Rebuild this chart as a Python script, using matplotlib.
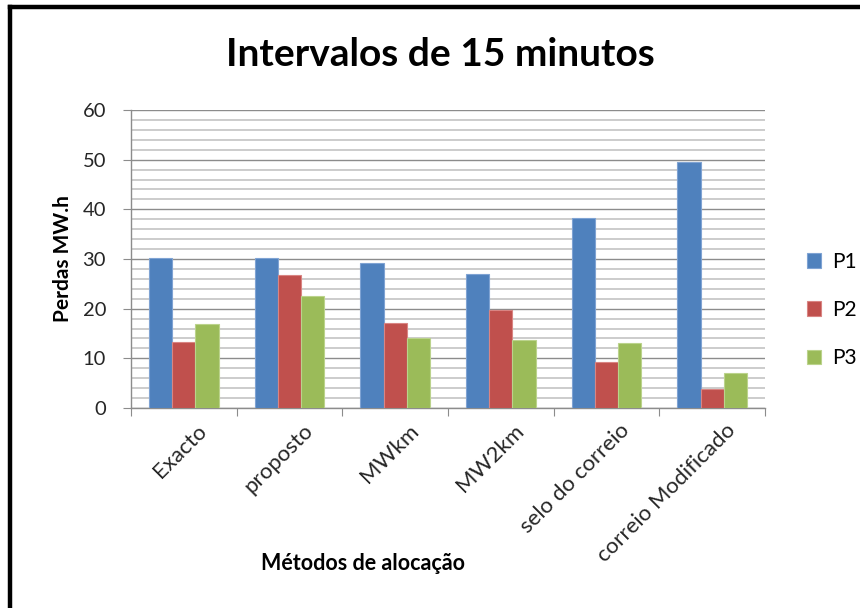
import matplotlib.pyplot as plt
import numpy as np
from matplotlib.lines import Line2D
from matplotlib.patches import Patch
import matplotlib.transforms as mtransforms

plt.rcParams['font.family'] = ['Lato', 'DejaVu Sans']

metodos = ['Exacto', 'proposto', 'MWkm', 'MW2km', 'selo do correio', 'correio Modificado']
series = ['P1', 'P2', 'P3']
p1 = [30.3, 30.3, 29.1, 27.0, 38.2, 49.6]
p2 = [13.3, 26.7, 17.2, 19.8, 9.3, 3.8]
p3 = [17.0, 22.5, 14.1, 13.7, 13.0, 7.1]
cores = ['#4F81BD', '#C0504D', '#9BBB59']
bordas = ['#7FA3D3', '#D98583', '#BBD38C']

fig = plt.figure(figsize=(8.6, 6.08), dpi=100)
ax = fig.add_axes([131 / 860, 1 - 408 / 608, (765 - 131) / 860, (408 - 110) / 608])

x = np.arange(len(metodos))
w = 0.22
for i, (vals, c, e) in enumerate(zip([p1, p2, p3], cores, bordas)):
    ax.bar(x + (i - 1) * w, vals, width=w, color=c, edgecolor=e, linewidth=0.8,
           label=series[i], zorder=3)

ax.set_xlim(-0.5, len(metodos) - 0.5)
ax.set_ylim(0, 60)
ax.set_yticks(range(0, 61, 10))
ax.set_yticks(range(0, 61, 2), minor=True)
ax.grid(axis='y', which='minor', color='#C8C8C8', linewidth=1.3, zorder=0)
ax.grid(axis='y', which='major', color='#8C8C8C', linewidth=1.0, zorder=1)

for s in ['top', 'right']:
    ax.spines[s].set_visible(False)
for s in ['left', 'bottom']:
    ax.spines[s].set_color('#8C8C8C')
    ax.spines[s].set_linewidth(1.0)

ax.tick_params(axis='y', which='major', length=6, color='#8C8C8C', labelsize=14.5,
               labelcolor='#262626', pad=12)
ax.tick_params(axis='y', which='minor', length=0)

# category boundaries carry the x tick marks, labels sit at the centres
ax.set_xticks(np.arange(-0.5, len(metodos), 1.0))
ax.set_xticklabels([])
ax.tick_params(axis='x', which='major', length=6, color='#8C8C8C')
ax.set_xticks(x, minor=True)
ax.set_xticklabels(metodos, minor=True, rotation=45, ha='right', rotation_mode='anchor',
                   fontsize=16, color='#262626')
ax.tick_params(axis='x', which='minor', length=0, pad=9)
offset = mtransforms.ScaledTranslation(13 / 100, 0, fig.dpi_scale_trans)
for lbl in ax.get_xticklabels(minor=True):
    lbl.set_transform(lbl.get_transform() + offset)

ax.set_ylabel('Perdas MW.h', fontsize=15, fontweight='bold', labelpad=7)
fig.text(363 / 860, 1 - 563 / 608, 'Métodos de alocação', fontsize=15.5, fontweight='bold',
         ha='center', va='center')
fig.text(440 / 860, 1 - 55 / 608, 'Intervalos de 15 minutos', fontsize=28, fontweight='bold',
         ha='center', va='center')

handles = [Patch(facecolor=c, edgecolor=e, linewidth=0.8) for c, e in zip(cores, bordas)]
fig.legend(handles, series, loc='center left', bbox_to_anchor=(788 / 860, 1 - 310 / 608),
           frameon=False, fontsize=15, handlelength=0.7, handleheight=0.7,
           handletextpad=0.5, labelspacing=1.35)

# frame lines along the top and left edges
fig.add_artist(Line2D([10 / 860, 1], [1 - 7 / 608, 1 - 7 / 608], color='black', linewidth=3.2,
                      transform=fig.transFigure))
fig.add_artist(Line2D([10 / 860, 10 / 860], [0, 1 - 7 / 608], color='black', linewidth=3.2,
                      transform=fig.transFigure, solid_capstyle='projecting'))

fig.savefig('out.png', dpi=100)
